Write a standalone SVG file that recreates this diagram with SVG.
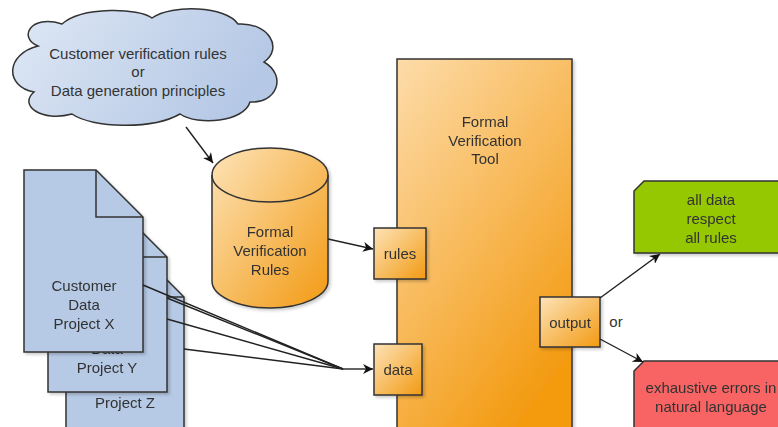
<svg xmlns="http://www.w3.org/2000/svg" width="778" height="427" viewBox="0 0 778 427">
<style>
text{font-family:"Liberation Sans",Arial,sans-serif;font-size:15px;fill:#333;text-anchor:middle}
.s{stroke:#333;stroke-width:1.5}
.e{fill:none;stroke:#222;stroke-width:1.4}
</style>
<defs>
<linearGradient id="gc" x1="0" y1="0" x2="1" y2="0.3"><stop offset="0" stop-color="#dfe8f5"/><stop offset="1" stop-color="#b5c8e5"/></linearGradient>
<linearGradient id="go" x1="0" y1="0" x2="1" y2="1"><stop offset="0" stop-color="#fde3b8"/><stop offset="1" stop-color="#f29a12"/></linearGradient>
<linearGradient id="gt" x1="0" y1="0" x2="0.6" y2="1"><stop offset="0" stop-color="#fddcaa"/><stop offset="1" stop-color="#f39a10"/></linearGradient>
<marker id="a" viewBox="0 0 10 10" refX="10" refY="5" markerWidth="10" markerHeight="10" markerUnits="userSpaceOnUse" orient="auto"><path d="M0,0 L10,5 L0,10 L3,5 Z" fill="#111"/></marker>
<filter id="sh" x="-10%" y="-10%" width="130%" height="130%"><feDropShadow dx="2" dy="2" stdDeviation="1.5" flood-color="#000" flood-opacity="0.2"/></filter>
</defs>

<g id="cloud">
<path class="s" fill="url(#gc)" d="M38,46 C18,38 30,14 62,24 C82,6 140,8 152,18 C172,4 226,6 238,24 C268,22 284,48 264,62 C288,76 276,104 250,102 C244,122 198,126 180,114 C152,130 92,128 72,114 C42,122 18,106 34,92 C4,86 6,54 38,46 Z"/>
<text x="138" y="59">Customer verification rules</text>
<text x="138" y="77">or</text>
<text x="138" y="96">Data generation principles</text>
</g>

<g id="docZ" filter="url(#sh)">
<path class="s" fill="#b6c9e5" d="M66,250 H137 L184,297 V440 H66 Z"/>
<path class="s" fill="none" d="M137,250 V297 H184"/>
<text x="125" y="408">Project Z</text>
</g>
<g id="docY" filter="url(#sh)">
<path class="s" fill="#b6c9e5" d="M48,210 H120 L167,257 V392 H48 Z"/>
<path class="s" fill="none" d="M120,210 V257 H167"/>
<text x="107" y="354">Data</text>
<text x="107" y="373">Project Y</text>
</g>
<g id="docX" filter="url(#sh)">
<path class="s" fill="#b6c9e5" d="M24,170 H96 L143,217 V352 H24 Z"/>
<path class="s" fill="none" d="M96,170 V217 H143"/>
<text x="84" y="291">Customer</text>
<text x="84" y="310">Data</text>
<text x="84" y="329">Project X</text>
</g>

<g id="rulesdb" filter="url(#sh)">
<path class="s" fill="url(#go)" d="M212,175 A58,27 0 0 1 328,175 V281 A58,27 0 0 1 212,281 Z"/>
<path class="s" fill="none" d="M212,175 A58,27 0 0 0 328,175"/>
<text x="270" y="237">Formal</text>
<text x="270" y="256">Verification</text>
<text x="270" y="275">Rules</text>
</g>

<g id="tool" filter="url(#sh)">
<rect class="s" x="397" y="59" width="175" height="390" fill="url(#gt)"/>
<text x="485" y="127">Formal</text>
<text x="485" y="146">Verification</text>
<text x="485" y="164">Tool</text>
</g>

<g id="portRules" filter="url(#sh)">
<rect class="s" x="374" y="228" width="52" height="51" fill="url(#go)"/>
<text x="400" y="259">rules</text>
</g>
<g id="portData" filter="url(#sh)">
<rect class="s" x="374" y="344" width="48" height="51" fill="url(#go)"/>
<text x="398" y="375">data</text>
</g>
<g id="portOutput" filter="url(#sh)">
<rect class="s" x="540" y="297" width="60" height="50" fill="url(#go)"/>
<text x="570" y="328">output</text>
</g>

<g id="ok" filter="url(#sh)">
<path class="s" fill="#95c800" d="M644,181 H792 V253 H634 V191 Z"/>
<text x="711" y="205">all data</text>
<text x="711" y="224">respect</text>
<text x="711" y="243">all rules</text>
</g>
<g id="err" filter="url(#sh)">
<path class="s" fill="#f86464" d="M644,361 H792 V440 H634 V371 Z"/>
<text x="711" y="393">exhaustive errors in</text>
<text x="711" y="412">natural language</text>
</g>

<g id="connectors">
<line class="e" x1="186" y1="127" x2="213" y2="163" marker-end="url(#a)"/>
<line class="e" x1="328" y1="239" x2="373" y2="249" marker-end="url(#a)"/>
<path class="e" d="M143,285 L343,369"/>
<path class="e" d="M167,298 L343,369"/>
<path class="e" d="M167,319 L343,369"/>
<path class="e" d="M184,349 L343,369"/>
<line class="e" x1="343" y1="369" x2="373" y2="369" marker-end="url(#a)"/>
<line class="e" x1="600" y1="298" x2="660" y2="254" marker-end="url(#a)"/>
<line class="e" x1="600" y1="339" x2="643" y2="362" marker-end="url(#a)"/>
<text x="616" y="327">or</text>
</g>
</svg>
